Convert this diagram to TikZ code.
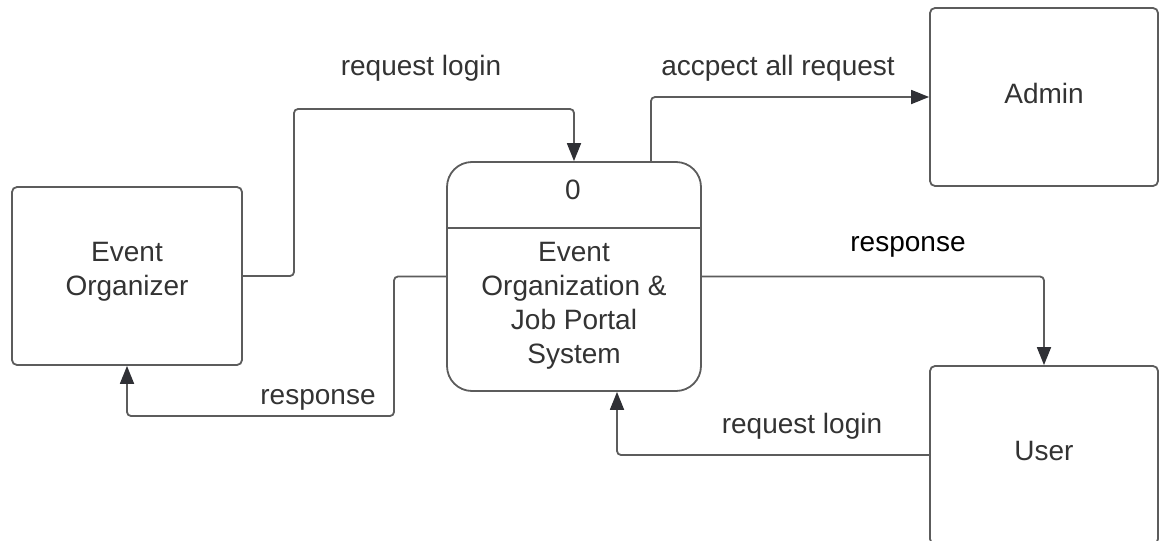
\documentclass[tikz,border=0pt]{standalone}
\usepackage{fontspec}
\setmainfont{Liberation Sans}
\usetikzlibrary{arrows.meta,calc}
\definecolor{linec}{HTML}{5C5C5C}
\definecolor{textc}{HTML}{333333}
\definecolor{tipc}{HTML}{2F3035}
\begin{document}
\begin{tikzpicture}[x=1pt,y=-1pt,
  every node/.style={font=\fontsize{28}{34}\selectfont, text=textc},
  entity/.style={draw=linec, line width=1.8pt, rounded corners=5pt, minimum width=230pt, minimum height=178pt, inner sep=0pt},
  proc/.style={draw=linec, line width=1.8pt, rounded corners=25pt, minimum width=254pt, minimum height=229pt, inner sep=0pt},
  flow/.style={draw=linec, line width=1.8pt, rounded corners=4pt, -{Triangle[length=18pt,width=14pt,fill=tipc,color=tipc]}},
  lbl/.style={inner sep=0pt}
]
\useasboundingbox (0,0) rectangle (1160,541);
\node[entity] (eo) at (127,276) {};
\node[align=center] (eot) at (127,272) {Event\\Organizer};
\node[entity, minimum width=228pt] (admin) at (1044,97) {};
\node (admint) at (1044,93) {Admin};
\node[entity, minimum width=228pt] (user) at (1044,455) {};
\node (usert) at (1044,451) {User};
\node[proc] (proc) at (574,276.5) {};
\node (num) at (573,190) {0};
\draw[draw=linec, line width=1.8pt] (proc.west |- 0,228) coordinate (dl) -- (proc.east |- dl);
\node[align=center] (proct) at (574,306) {Event\\Organization \&\\Job Portal\\System};

\draw[flow] (eo.east) -| (294,109) -| (proc.north);
\draw[flow] ($(proc.north)+(77,0)$) |- (admin.west);
\draw[flow] (proc.west) -| (394,416) -| (eo.south);
\draw[flow] (proc.east) -| (user.north);
\draw[flow] (user.west) -| ($(proc.south)+(43,0)$);

\node[lbl] (l1) at (421,68) {request login};
\node[lbl] (l2) at (778,68) {accpect all request};
\node[lbl, text=black] (l3) at (908,247) {response};
\node[lbl] (l4) at (318,400) {response};
\node[lbl] (l5) at (802,426) {request login};
\end{tikzpicture}
\end{document}
